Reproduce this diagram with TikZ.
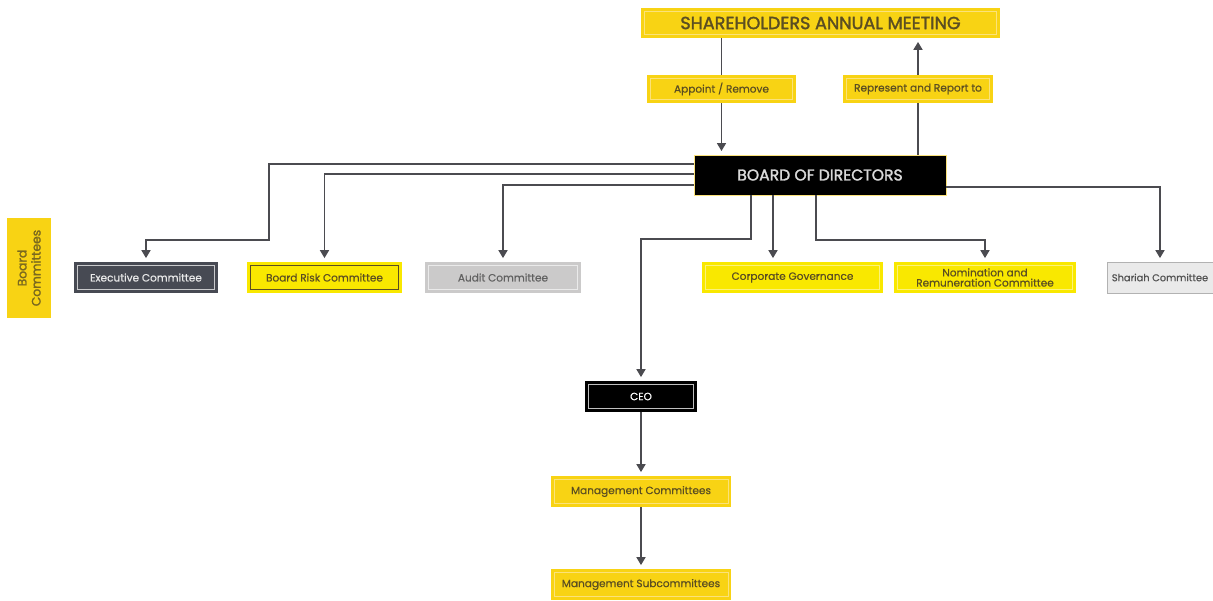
\documentclass[tikz,border=0pt]{standalone}
\usepackage{fontspec}
\setmainfont{Poppins}[FakeBold=0.6]
\newfontfamily\headfont{Poppins}[FakeBold=1.8]
\usepackage{xcolor}
\usepackage{tikz}
\usetikzlibrary{positioning,arrows.meta}

\definecolor{gold}{HTML}{F8D314}
\definecolor{goldline}{HTML}{FBE27A}
\definecolor{lemon}{HTML}{F9E800}
\definecolor{lemonline}{HTML}{FCF27A}
\definecolor{olive}{HTML}{5B4E22}
\definecolor{slate}{HTML}{474A53}
\definecolor{ashgray}{HTML}{CBCACA}
\definecolor{lightash}{HTML}{EAEAEA}
\definecolor{wire}{HTML}{4B4B50}

\begin{document}
\begin{tikzpicture}[x=0.02cm,y=-0.02cm,
  inbox/.style={path picture={\draw[#1,line width=0.5pt]
    ([shift={(2pt,-2pt)}]path picture bounding box.north west) rectangle
    ([shift={(-2pt,2pt)}]path picture bounding box.south east);}},
  box/.style={inner sep=1pt,minimum height=0.62cm,align=center,font=\fontsize{6}{6.8}\selectfont},
  goldbox/.style={box,fill=gold,text=olive,inbox=goldline},
  lemonbox/.style={box,fill=lemon,text=olive,inbox=lemonline},
  link/.style={draw=wire,line width=1.1pt},
  arr/.style={link,-{Triangle[length=4.5pt,width=5pt]},shorten >=2pt}]
\useasboundingbox (0,0) rectangle (1213,600);

\node[goldbox,minimum width=7.18cm,minimum height=0.6cm,font=\headfont\fontsize{10}{11}\selectfont] (sam) at (820.5,23) {SHAREHOLDERS ANNUAL MEETING};
\node[goldbox,minimum width=2.98cm,minimum height=0.56cm] (appoint) at (721.5,89) {Appoint / Remove};
\node[goldbox,minimum width=3.0cm,minimum height=0.56cm] (report) at (918,89) {Represent and Report to};
\node[box,fill=black,draw=goldline,line width=0.5pt,text=black!15,minimum width=5.04cm,minimum height=0.8cm,font=\headfont\fontsize{8.9}{10}\selectfont] (bod) at (820,175) {BOARD OF DIRECTORS};

\node[fill=gold,text=olive!80!gold,rotate=90,align=center,minimum width=2cm,minimum height=0.88cm,inner sep=1pt,font=\headfont\fontsize{7}{8}\selectfont] (bc) at (29,268) {Board\\Committees};

\node[box,fill=slate,text=lightash,inbox=lightash!80!slate,minimum width=2.88cm] (exec) at (146,277.5) {Executive Committee};
\node[lemonbox,inbox=olive,minimum width=3.1cm] (risk) at (324.5,277.5) {Board Risk Committee};
\node[box,fill=ashgray,text=black!62,inbox=lightash,minimum width=3.12cm] (audit) at (503,277.5) {Audit Committee};
\node[lemonbox,minimum width=3.62cm] (corp) at (792.5,277.5) {Corporate Governance};
\node[lemonbox,minimum width=3.64cm] (nom) at (985,277.5) {Nomination and\\[-1pt]Remuneration Committee};
\node[box,fill=lightash,draw=black!30,line width=0.4pt,text=black!68,minimum width=2.12cm,font=\fontsize{5.6}{6.5}\selectfont] (shariah) at (1160,277.5) {Shariah Committee};

\node[box,fill=black,text=white,inbox=black!25,minimum width=2.24cm] (ceo) at (641,396.5) {CEO};
\node[goldbox,minimum width=3.62cm] (mc) at (641,491.5) {Management Committees};
\node[goldbox,minimum width=3.62cm] (msc) at (641,584.5) {Management Subcommittees};

\coordinate (b1) at (751,195);
\coordinate (b2) at (773,195);
\coordinate (b3) at (816,195);

\draw[link] (appoint.north) -- (appoint.north |- sam.south);
\draw[arr] (appoint.south) -- (appoint.south |- bod.north);
\draw[link] (report.south |- bod.north) -- (report.south);
\draw[arr] (report.north) -- (report.north |- sam.south);

\draw[arr] ([yshift=0.22cm]bod.west) -| (269,240) -| (exec.north);
\draw[arr] ([yshift=0.02cm]bod.west) -| (risk.north);
\draw[arr] ([yshift=-0.2cm]bod.west) -| (audit.north);
\draw[arr] (b1) |- (641,239) -- (ceo.north);
\draw[arr] (b2) -- (b2 |- corp.north);
\draw[arr] (b3) |- (985,240) -- (nom.north);
\draw[arr] ([yshift=-0.24cm]bod.east) -| (shariah.north);

\draw[arr] (ceo.south) -- (mc.north);
\draw[arr] (mc.south) -- (msc.north);
\end{tikzpicture}
\end{document}
